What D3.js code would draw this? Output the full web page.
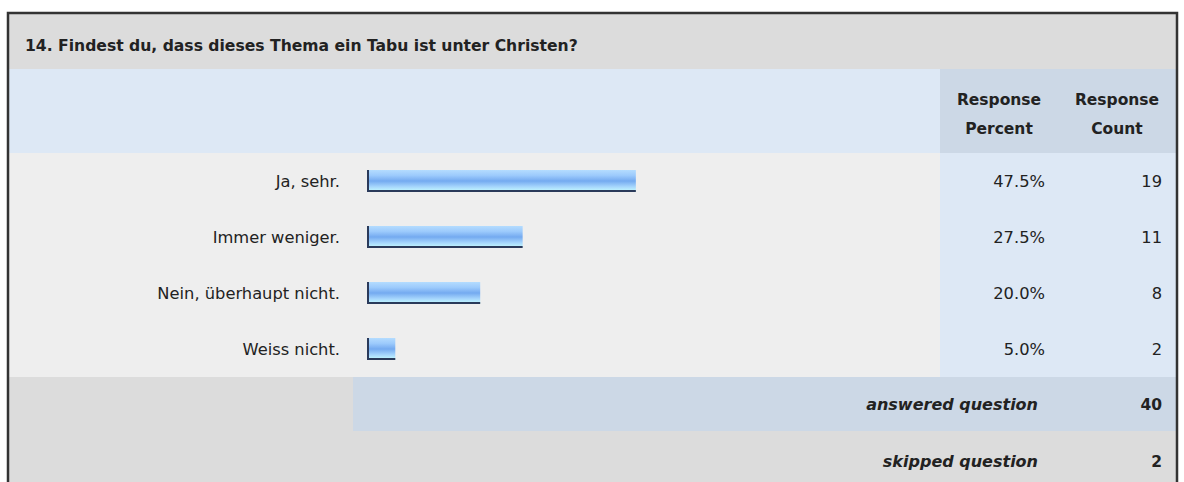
<!DOCTYPE html>
<html>
<head>
<meta charset="utf-8">
<script src="https://cdn.jsdelivr.net/npm/d3@7"></script>
<style>
  body { margin: 0; background: #fff; }
  svg text { font-family: "DejaVu Sans", Verdana, sans-serif; fill: #222; }
</style>
</head>
<body>
<script>
///////////////////   Data   /////////////////

var question = "14. Findest du, dass dieses Thema ein Tabu ist unter Christen?";
var answers = ["Ja, sehr.", "Immer weniger.", "Nein, überhaupt nicht.", "Weiss nicht."];
var percents = [47.5, 27.5, 20.0, 5.0];
var counts = [19, 11, 8, 2];
var answeredCount = 40,
    skippedCount = 2;

///////////////////   Layout   /////////////////

var W = 1184, H = 482;
var boxLeft = 8, boxRight = 1177, boxTop = 13;
var headerBottom = 69, colHeadBottom = 153, rowsBottom = 377, answeredBottom = 431;
var colSplit = 940, footSplit = 353;
var barLeft = 367, barRight = 933;
var fs = 16.3;

var colors = {
  gray: "#dcdcdc",
  lightgray: "#eeeeee",
  lightblue: "#dde8f5",
  midblue: "#ccd8e6",
  border: "#333333"
};

var svg = d3.select("body").append("svg")
  .attr("width", W).attr("height", H);

// gradient for the bars
var grad = svg.append("defs").append("linearGradient")
  .attr("id", "barGrad").attr("x1", 0).attr("x2", 0).attr("y1", 0).attr("y2", 1);
grad.append("stop").attr("offset", "0%").attr("stop-color", "#b4dcff");
grad.append("stop").attr("offset", "25%").attr("stop-color", "#9ccafc");
grad.append("stop").attr("offset", "50%").attr("stop-color", "#74aaf0");
grad.append("stop").attr("offset", "75%").attr("stop-color", "#a4d4fc");
grad.append("stop").attr("offset", "100%").attr("stop-color", "#c8ffff");

// backgrounds
svg.append("rect").attr("x", boxLeft).attr("y", boxTop).attr("width", boxRight - boxLeft).attr("height", headerBottom - boxTop).attr("fill", colors.gray);
svg.append("rect").attr("x", boxLeft).attr("y", headerBottom).attr("width", colSplit - boxLeft).attr("height", colHeadBottom - headerBottom).attr("fill", colors.lightblue);
svg.append("rect").attr("x", colSplit).attr("y", headerBottom).attr("width", boxRight - colSplit).attr("height", colHeadBottom - headerBottom).attr("fill", colors.midblue);
svg.append("rect").attr("x", boxLeft).attr("y", colHeadBottom).attr("width", colSplit - boxLeft).attr("height", rowsBottom - colHeadBottom).attr("fill", colors.lightgray);
svg.append("rect").attr("x", colSplit).attr("y", colHeadBottom).attr("width", boxRight - colSplit).attr("height", rowsBottom - colHeadBottom).attr("fill", colors.lightblue);
svg.append("rect").attr("x", boxLeft).attr("y", rowsBottom).attr("width", boxRight - boxLeft).attr("height", H - rowsBottom).attr("fill", colors.gray);
svg.append("rect").attr("x", footSplit).attr("y", rowsBottom).attr("width", boxRight - footSplit).attr("height", answeredBottom - rowsBottom).attr("fill", colors.midblue);

// outer frame
svg.append("path")
  .attr("d", "M" + boxLeft + "," + (H + 2) + "V" + boxTop + "H" + boxRight + "V" + (H + 2))
  .attr("fill", "none").attr("stroke", colors.border).attr("stroke-width", 2.5);

// title
svg.append("text").attr("x", 25).attr("y", 51)
  .attr("font-size", 15.6).attr("font-weight", "bold")
  .text(question);

// column headers
[["Response", "Percent", 999], ["Response", "Count", 1117]].forEach(function(h) {
  svg.append("text").attr("x", h[2]).attr("y", 105).attr("text-anchor", "middle").attr("font-size", 15.5).attr("font-weight", "bold").text(h[0]);
  svg.append("text").attr("x", h[2]).attr("y", 134).attr("text-anchor", "middle").attr("font-size", 15.5).attr("font-weight", "bold").text(h[1]);
});

///////////////////   Scales   /////////////////

var y = d3.scaleBand().domain(answers).range([colHeadBottom, rowsBottom]).paddingInner(0).paddingOuter(0);
var x = d3.scaleLinear().domain([0, 100]).range([barLeft, barRight]);
var barH = 22;

var rows = svg.selectAll("g.row").data(answers).enter().append("g").attr("class", "row");

rows.append("text")
  .attr("x", 340).attr("y", function(d) { return y(d) + y.bandwidth() / 2 + 6; })
  .attr("text-anchor", "end").attr("font-size", fs)
  .text(function(d) { return d; });

rows.append("rect")
  .attr("x", x(0)).attr("y", function(d) { return y(d) + y.bandwidth() / 2 - barH / 2; })
  .attr("width", function(d, i) { return x(percents[i]) - x(0); })
  .attr("height", barH)
  .attr("fill", "url(#barGrad)");

rows.append("path")
  .attr("d", function(d, i) {
    var top = y(d) + y.bandwidth() / 2 - barH / 2;
    return "M" + (x(0) + 1) + "," + top + "V" + (top + barH - 1) + "H" + x(percents[i]);
  })
  .attr("fill", "none").attr("stroke", "#2a3a5a").attr("stroke-width", 2);

rows.append("text")
  .attr("x", 1045).attr("y", function(d) { return y(d) + y.bandwidth() / 2 + 6; })
  .attr("text-anchor", "end").attr("font-size", fs)
  .text(function(d, i) { return percents[i].toFixed(1) + "%"; });

rows.append("text")
  .attr("x", 1162).attr("y", function(d) { return y(d) + y.bandwidth() / 2 + 6; })
  .attr("text-anchor", "end").attr("font-size", fs)
  .text(function(d, i) { return counts[i]; });

// footer
[["answered question", answeredCount, (rowsBottom + answeredBottom) / 2], ["skipped question", skippedCount, answeredBottom + 30]].forEach(function(f) {
  svg.append("text").attr("x", 1038).attr("y", f[2] + 6).attr("text-anchor", "end")
    .attr("font-size", 16).attr("font-weight", "bold").attr("font-style", "italic").text(f[0]);
  svg.append("text").attr("x", 1162).attr("y", f[2] + 6).attr("text-anchor", "end")
    .attr("font-size", 15.5).attr("font-weight", "bold").text(f[1]);
});
</script>
</body>
</html>
